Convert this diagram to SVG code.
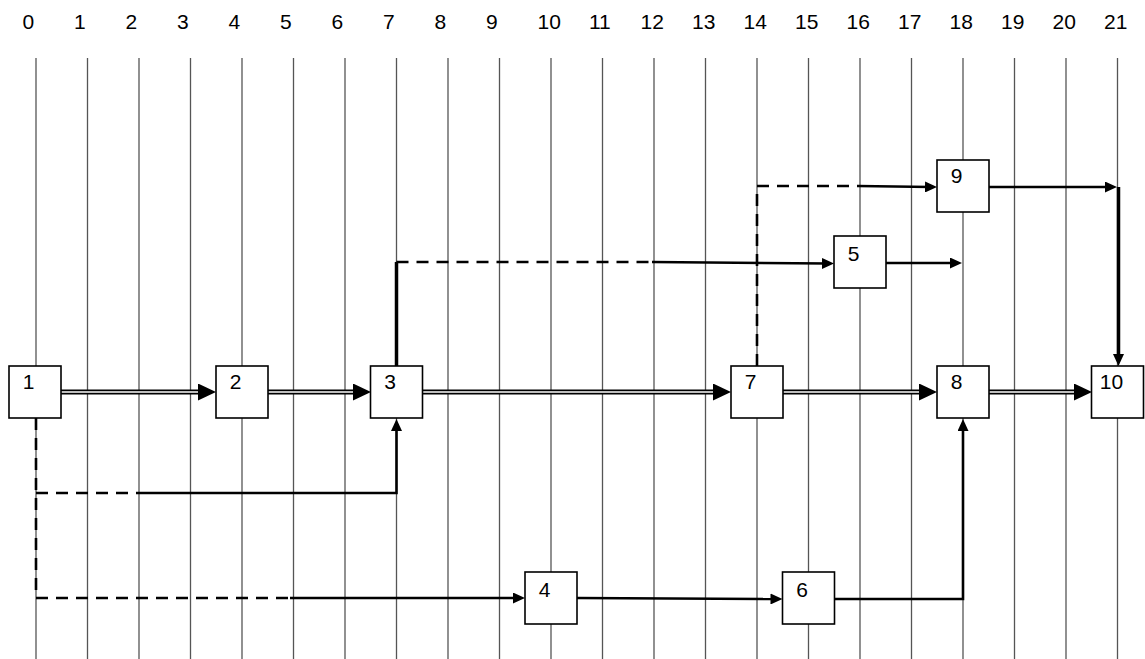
<svg xmlns="http://www.w3.org/2000/svg" width="1145" height="659" viewBox="0 0 1145 659">
<style>
.grid{stroke:#555;stroke-width:1.3}
.node rect{fill:#fff;stroke:#000;stroke-width:1.6}
.lbl{font-family:"Liberation Sans",Arial,sans-serif;font-size:21px;fill:#000}
.node text{text-anchor:middle}
.solid{stroke:#000;stroke-width:2.6;fill:none}
.dash{stroke:#000;stroke-width:2.6;fill:none;stroke-dasharray:12 8}
.thick{stroke-width:3.5}
.dblo{stroke:#000;stroke-width:5;fill:none}
.dbli{stroke:#fff;stroke-width:1.6;fill:none}
</style>
<defs>
<marker id="ah" markerUnits="userSpaceOnUse" markerWidth="12" markerHeight="11" refX="6" refY="5.5" orient="auto"><path d="M0,0 L12,5.5 L0,11 z" fill="#000"/></marker>
<marker id="ahb" markerUnits="userSpaceOnUse" markerWidth="18" markerHeight="17" refX="9" refY="8.5" orient="auto"><path d="M0,0 L18,8.5 L0,17 z" fill="#000"/></marker>
</defs>
<rect width="1145" height="659" fill="#fff"/>
<g id="axis" class="lbl">
<text x="22.5" y="29">0</text><text x="74" y="29">1</text><text x="125.5" y="29">2</text><text x="177" y="29">3</text>
<text x="228.5" y="29">4</text><text x="280" y="29">5</text><text x="331.5" y="29">6</text><text x="383" y="29">7</text>
<text x="434.5" y="29">8</text><text x="486" y="29">9</text><text x="537.5" y="29">10</text><text x="589" y="29">11</text>
<text x="640.5" y="29">12</text><text x="692" y="29">13</text><text x="743.5" y="29">14</text><text x="795" y="29">15</text>
<text x="846.5" y="29">16</text><text x="898" y="29">17</text><text x="949.5" y="29">18</text><text x="1001" y="29">19</text>
<text x="1052.5" y="29">20</text><text x="1104" y="29">21</text>
</g>
<g id="grid" class="grid">
<line x1="36" y1="58" x2="36" y2="659"/><line x1="87.5" y1="58" x2="87.5" y2="659"/><line x1="139" y1="58" x2="139" y2="659"/>
<line x1="190.5" y1="58" x2="190.5" y2="659"/><line x1="242" y1="58" x2="242" y2="659"/><line x1="293.5" y1="58" x2="293.5" y2="659"/>
<line x1="345" y1="58" x2="345" y2="659"/><line x1="396.5" y1="58" x2="396.5" y2="659"/><line x1="448" y1="58" x2="448" y2="659"/>
<line x1="499.5" y1="58" x2="499.5" y2="659"/><line x1="551" y1="58" x2="551" y2="659"/><line x1="602.5" y1="58" x2="602.5" y2="659"/>
<line x1="654" y1="58" x2="654" y2="659"/><line x1="705.5" y1="58" x2="705.5" y2="659"/><line x1="757" y1="58" x2="757" y2="659"/>
<line x1="808.5" y1="58" x2="808.5" y2="659"/><line x1="860" y1="58" x2="860" y2="659"/><line x1="911.5" y1="58" x2="911.5" y2="659"/>
<line x1="963" y1="58" x2="963" y2="659"/><line x1="1014.5" y1="58" x2="1014.5" y2="659"/><line x1="1066" y1="58" x2="1066" y2="659"/>
<line x1="1117.5" y1="58" x2="1117.5" y2="659"/>
</g>
<g id="connectors">
<path class="dblo" d="M61,392 H207" marker-end="url(#ahb)"/><path class="dbli" d="M61,392 H198"/>
<path class="dblo" d="M268,392 H362" marker-end="url(#ahb)"/><path class="dbli" d="M268,392 H353"/>
<path class="dblo" d="M422.5,392 H722" marker-end="url(#ahb)"/><path class="dbli" d="M422.5,392 H713"/>
<path class="dblo" d="M783,392 H928" marker-end="url(#ahb)"/><path class="dbli" d="M783,392 H919"/>
<path class="dblo" d="M989,392 H1083" marker-end="url(#ahb)"/><path class="dbli" d="M989,392 H1074"/>
<path class="dash" d="M36,418 V598 H290"/>
<path class="dash" d="M36,493 H139"/>
<path class="solid" d="M139,493 H396.5 V425" marker-end="url(#ah)"/>
<path class="solid" d="M290,598 H519" marker-end="url(#ah)"/>
<path class="solid" d="M577,598 L776.5,599" marker-end="url(#ah)"/>
<path class="solid" d="M834,599 H963 V425" marker-end="url(#ah)"/>
<path class="solid thick" d="M396.5,366 V262"/>
<path class="dash" d="M396.5,262 H652"/>
<path class="solid" d="M652,262 L828,263.5" marker-end="url(#ah)"/>
<path class="solid" d="M886,263 H956" marker-end="url(#ah)"/>
<path class="dash" d="M757,366 V186 H858"/>
<path class="solid" d="M858,186 L931,187" marker-end="url(#ah)"/>
<path class="solid" d="M989,187 H1111" marker-end="url(#ah)"/>
<path class="solid thick" d="M1118.5,187 V360" marker-end="url(#ah)"/>
</g>
<g id="n1" class="node"><rect x="9" y="366" width="52" height="52"/><text class="lbl" x="28.5" y="389">1</text></g>
<g id="n2" class="node"><rect x="216" y="366" width="52" height="52"/><text class="lbl" x="235.5" y="389">2</text></g>
<g id="n3" class="node"><rect x="370.5" y="366" width="52" height="52"/><text class="lbl" x="390" y="389">3</text></g>
<g id="n7" class="node"><rect x="731" y="366" width="52" height="52"/><text class="lbl" x="750.5" y="389">7</text></g>
<g id="n8" class="node"><rect x="937" y="366" width="52" height="52"/><text class="lbl" x="956.5" y="389">8</text></g>
<g id="n10" class="node"><rect x="1091.5" y="366" width="52" height="52"/><text class="lbl" x="1111.5" y="389">10</text></g>
<g id="n9" class="node"><rect x="937" y="160" width="52" height="52"/><text class="lbl" x="956.5" y="183">9</text></g>
<g id="n5" class="node"><rect x="834" y="236" width="52" height="52"/><text class="lbl" x="853.5" y="261">5</text></g>
<g id="n4" class="node"><rect x="525" y="572" width="52" height="52"/><text class="lbl" x="544.5" y="597">4</text></g>
<g id="n6" class="node"><rect x="782.5" y="572" width="52" height="52"/><text class="lbl" x="802" y="597">6</text></g>
</svg>
